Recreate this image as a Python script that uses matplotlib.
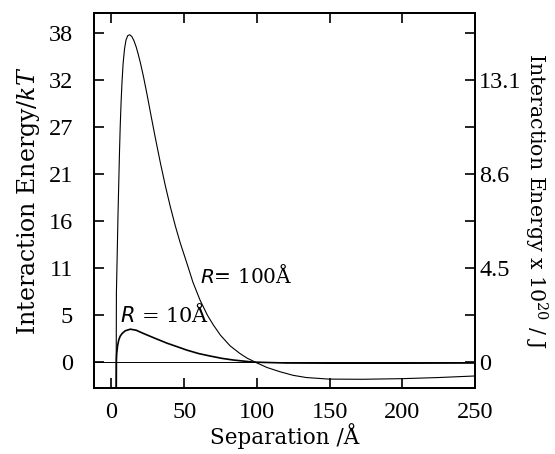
import matplotlib
matplotlib.use("Agg")
import matplotlib.pyplot as plt

# separation (Angstrom) and energy (kT)
sep_100 = [3.2, 3.4, 3.9, 4.5, 5.0, 5.5, 6.0, 6.6, 7.2, 8.0, 9.0, 10.0, 11.2,
           12.5, 14.0, 15.5, 17.0, 18.5, 20.0, 22.0, 24.4, 27.0, 30.0, 33.5,
           37.0, 40.4, 44.0, 47.3, 52.0, 56.0, 61.0, 66.0, 70.0, 75.0, 81.5,
           88.0, 93.0, 99.7, 107.0, 115.8, 125.0, 134.0, 149.5, 172.6, 199.8,
           225.0, 250.0]
energy_100 = [-3.0, 8.0, 12.0, 17.0, 20.5, 24.0, 27.0, 29.8, 32.0, 34.3, 36.0,
              37.0, 37.5, 37.6, 37.4, 36.9, 36.2, 35.3, 34.3, 32.8, 30.8, 28.5,
              25.9, 23.0, 20.3, 17.9, 15.6, 13.7, 11.3, 9.2, 7.1, 5.4, 4.3, 3.1,
              1.9, 1.05, 0.5, -0.05, -0.6, -1.08, -1.5, -1.75, -1.93, -1.95,
              -1.88, -1.75, -1.57]

sep_10 = [3.3, 3.4, 3.6, 4.2, 5.0, 6.0, 7.3, 9.5, 13.0, 17.0, 22.1, 30.0, 38.1,
          45.0, 51.8, 60.0, 67.8, 76.0, 83.8, 97.5, 120.0, 150.0, 200.0, 250.0]
energy_10 = [-3.0, 0.3, 1.0, 1.9, 2.56, 3.0, 3.3, 3.62, 3.8, 3.68, 3.3, 2.75,
             2.2, 1.8, 1.4, 1.0, 0.72, 0.45, 0.26, 0.02, -0.08, -0.1, -0.1, -0.08]

kt_ticks = [0, 5.4, 10.8, 16.2, 21.6, 27.0, 32.4, 37.8]
kt_labels = ["0", "5", "11", "16", "21", "27", "32", "38"]
joule_labels = ["0", "", "4.5", "", "8.6", "", "13.1", ""]
x_ticks = [0, 50, 100, 150, 200, 250]

plt.rcParams["font.family"] = ["DejaVu Serif"]
plt.rcParams["mathtext.fontset"] = "custom"
plt.rcParams["mathtext.rm"] = "DejaVu Serif"
plt.rcParams["mathtext.it"] = "DejaVu Serif:italic"
plt.rcParams["mathtext.sf"] = "DejaVu Sans:italic"

fig = plt.figure(figsize=(5.55, 4.54), dpi=100)
ax = fig.add_axes([0.1694, 0.1454, 0.6865, 0.826])

ax.plot(sep_100, energy_100, color="black", lw=0.8)
ax.plot(sep_10, energy_10, color="black", lw=1.2)
ax.axhline(0, color="black", lw=0.7)

ax.set_xlim(-12, 250)
ax.set_ylim(-2.95, 40.1)
ax.set_xticks(x_ticks)
ax.set_yticks(kt_ticks)
ax.set_yticklabels(kt_labels)
ax.tick_params(direction="in", length=7, width=1.2, top=True, labelsize=17.5)
ax.tick_params(axis="y", pad=15)
ax.tick_params(axis="x", pad=10)
for s in ax.spines.values():
    s.set_linewidth(1.4)

ax.set_xlabel("Separation /Å", fontsize=15.5, labelpad=0)
ax.set_ylabel("Interaction Energy/$kT$", fontsize=17, labelpad=5)

ax2 = ax.twinx()
ax2.set_ylim(ax.get_ylim())
ax2.set_yticks(kt_ticks)
ax2.set_yticklabels(joule_labels)
ax2.tick_params(direction="in", length=7, width=1.2, pad=3, labelsize=17.5)
ax2.set_ylabel("Interaction Energy x 10$^{20}$ / J", fontsize=14.8,
               rotation=270, labelpad=20)
for s in ax2.spines.values():
    s.set_linewidth(1.4)

for lbl in ax.get_xticklabels() + ax.get_yticklabels() + ax2.get_yticklabels():
    lbl.set_fontfamily("Liberation Serif")

ax.text(6.0, 5.5, r"$\mathsf{R}$ = 10Å", fontsize=15, va="center", ha="left")
ax.text(61, 10.0, r"$\mathsf{R}$= 100Å", fontsize=14.5, va="center", ha="left")

fig.savefig("out.png", dpi=100)
